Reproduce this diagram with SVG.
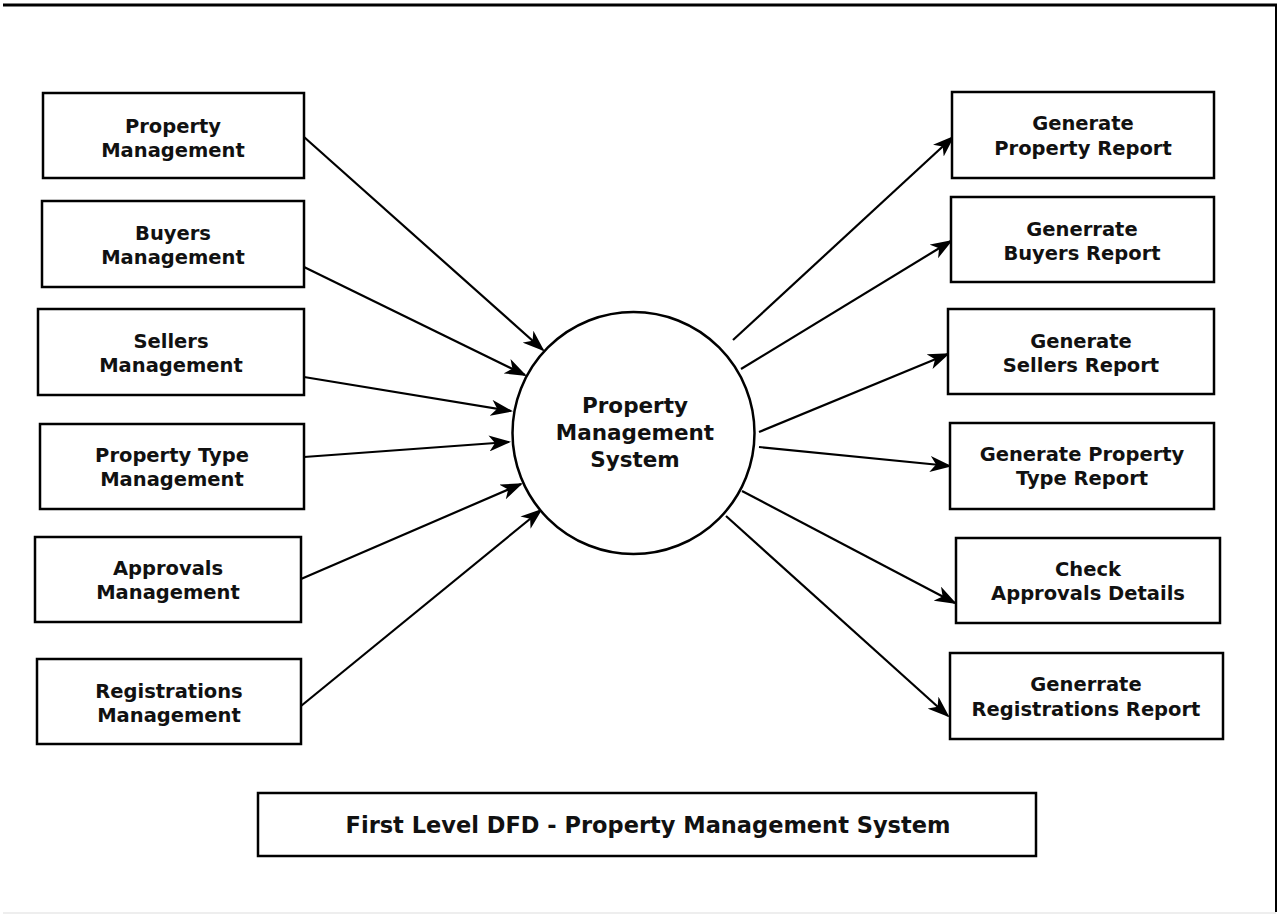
<svg xmlns="http://www.w3.org/2000/svg" width="1281" height="917" viewBox="0 0 1281 917">
<style>
.box{fill:#fff;stroke:#000;stroke-width:2.5}
.t{font-family:"DejaVu Sans",sans-serif;font-weight:bold;font-size:19.5px;text-anchor:middle;fill:#111}
.c{font-size:21.5px}
.ttl{font-size:22.5px}
.ln{stroke:#000;stroke-width:2.2;fill:none;marker-end:url(#ah)}
</style>
<defs>
<marker id="ah" viewBox="0 0 22 16" refX="20" refY="8" markerWidth="22" markerHeight="16" markerUnits="userSpaceOnUse" orient="auto">
<path d="M0,0 L22,8 L0,16 L6,8 Z" fill="#000"/>
</marker>
</defs>
<rect width="1281" height="917" fill="#fff"/>
<g id="frame" stroke="#000" fill="none">
<line x1="3" y1="5" x2="1277" y2="5" stroke-width="3"/>
<line x1="1276" y1="4" x2="1276" y2="912" stroke-width="2"/>
<line x1="3" y1="913" x2="1276" y2="913" stroke="#ddd" stroke-width="1"/>
</g>
<g id="connectors">
<line class="ln" x1="304" y1="137" x2="543" y2="350"/>
<line class="ln" x1="304" y1="267" x2="525" y2="375"/>
<line class="ln" x1="304" y1="377" x2="511" y2="411"/>
<line class="ln" x1="304" y1="457" x2="509" y2="442"/>
<line class="ln" x1="301" y1="579" x2="521" y2="484"/>
<line class="ln" x1="301" y1="706" x2="541" y2="510"/>
<line class="ln" x1="733" y1="340" x2="953" y2="137"/>
<line class="ln" x1="741" y1="369" x2="951" y2="241"/>
<line class="ln" x1="759" y1="432" x2="948" y2="354"/>
<line class="ln" x1="759" y1="447" x2="950" y2="466"/>
<line class="ln" x1="742" y1="491" x2="955" y2="603"/>
<line class="ln" x1="726" y1="516" x2="948" y2="716"/>
</g>
<g id="n-center">
<circle cx="633.5" cy="433" r="121" fill="#fff" stroke="#000" stroke-width="2.5"/>
<text class="t c" x="635" y="413">Property</text>
<text class="t c" x="635" y="440">Management</text>
<text class="t c" x="635" y="467">System</text>
</g>
<g id="n-l1"><rect class="box" x="43" y="93" width="261" height="85"/><text class="t" x="173" y="133">Property</text><text class="t" x="173" y="157">Management</text></g>
<g id="n-l2"><rect class="box" x="42" y="201" width="262" height="86"/><text class="t" x="173" y="240">Buyers</text><text class="t" x="173" y="264">Management</text></g>
<g id="n-l3"><rect class="box" x="38" y="309" width="266" height="86"/><text class="t" x="171" y="348">Sellers</text><text class="t" x="171" y="372">Management</text></g>
<g id="n-l4"><rect class="box" x="40" y="424" width="264" height="85"/><text class="t" x="172" y="462">Property Type</text><text class="t" x="172" y="486">Management</text></g>
<g id="n-l5"><rect class="box" x="35" y="537" width="266" height="85"/><text class="t" x="168" y="575">Approvals</text><text class="t" x="168" y="599">Management</text></g>
<g id="n-l6"><rect class="box" x="37" y="659" width="264" height="85"/><text class="t" x="169" y="698">Registrations</text><text class="t" x="169" y="722">Management</text></g>
<g id="n-r1"><rect class="box" x="952" y="92" width="262" height="86"/><text class="t" x="1083" y="130">Generate</text><text class="t" x="1083" y="155">Property Report</text></g>
<g id="n-r2"><rect class="box" x="951" y="197" width="263" height="85"/><text class="t" x="1082" y="236">Generrate</text><text class="t" x="1082" y="260">Buyers Report</text></g>
<g id="n-r3"><rect class="box" x="948" y="309" width="266" height="85"/><text class="t" x="1081" y="348">Generate</text><text class="t" x="1081" y="372">Sellers Report</text></g>
<g id="n-r4"><rect class="box" x="950" y="423" width="264" height="86"/><text class="t" x="1082" y="461">Generate Property</text><text class="t" x="1082" y="485">Type Report</text></g>
<g id="n-r5"><rect class="box" x="956" y="538" width="264" height="85"/><text class="t" x="1088" y="576">Check</text><text class="t" x="1088" y="600">Approvals Details</text></g>
<g id="n-r6"><rect class="box" x="950" y="653" width="273" height="86"/><text class="t" x="1086" y="691">Generrate</text><text class="t" x="1086" y="716">Registrations Report</text></g>
<g id="n-title"><rect class="box" x="258" y="793" width="778" height="63"/><text class="t ttl" x="648" y="833">First Level DFD - Property Management System</text></g>
</svg>
